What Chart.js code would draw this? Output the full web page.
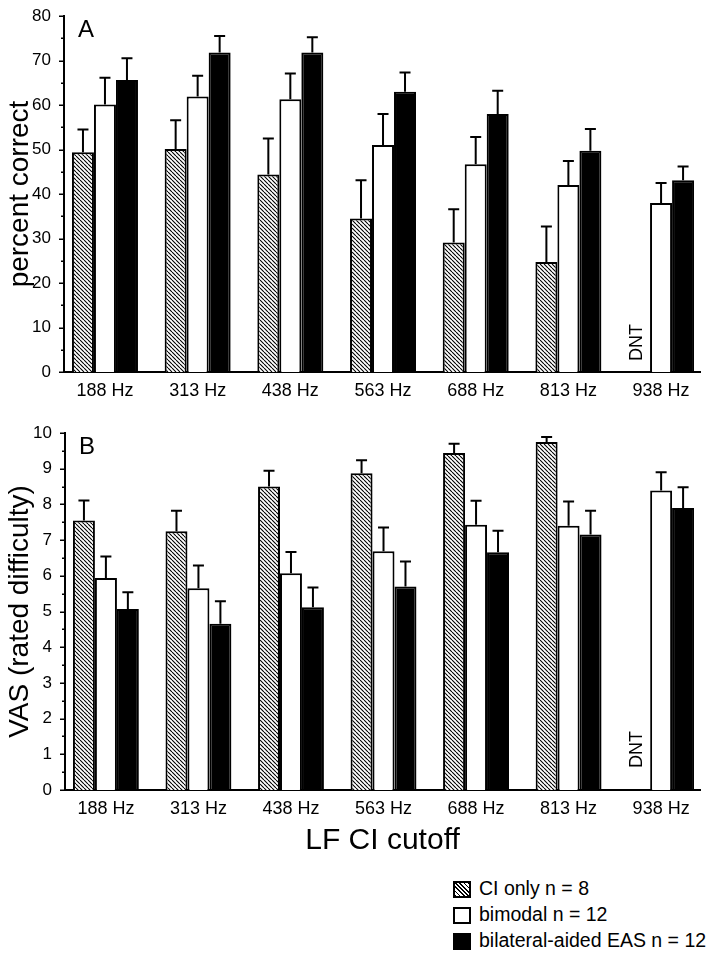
<!DOCTYPE html>
<html><head><meta charset="utf-8">
<script src="https://cdn.jsdelivr.net/npm/chart.js@4/dist/chart.umd.min.js"></script>
<style>
body{margin:0;background:#fff;width:721px;height:961px;position:relative;overflow:hidden;font-family:'Liberation Sans',Arial,sans-serif;}
#ca{position:absolute;left:0;top:0;}
#cb{position:absolute;left:0;top:400px;}
.leg{position:absolute;left:453px;top:876px;font-size:19.5px;color:#000;line-height:1;}
.row{display:flex;align-items:center;height:26px;}
.sw{width:14px;height:13px;border:2px solid #000;margin-right:8px;flex:none;}
.sw.h{background:repeating-linear-gradient(45deg,#000 0 1.1px,#fff 1.1px 3px);}
.sw.w{background:#fff;}
.sw.k{background:#000;}
</style></head><body>
<canvas id="ca" width="721" height="402"></canvas>
<canvas id="cb" width="721" height="470"></canvas>
<div class="leg" id="leg"></div>
<script>
// ---- data ----
const categories = ['188 Hz','313 Hz','438 Hz','563 Hz','688 Hz','813 Hz','938 Hz'];
const catPos = [1,2,3,4,5,6,7];
const seriesNames = ['CI only n = 8','bimodal n = 12','bilateral-aided EAS n = 12'];
const notTestedLabel = 'DNT';

// Panel A: percent correct
const pctCIonly     = [49.4, 50.1, 44.4, 34.5, 29.1, 24.7, null];
const pctCIonlyErr  = [5.1, 6.5, 8.1, 8.6, 7.5, 8.0, null];
const pctBimodal    = [60.1, 61.9, 61.3, 51.0, 46.7, 42.0, 38.0];
const pctBimodalErr = [6.0, 4.7, 5.8, 7.0, 6.1, 5.4, 4.5];
const pctEAS        = [65.6, 71.8, 71.8, 63.0, 58.0, 49.7, 43.1];
const pctEASErr     = [4.9, 3.7, 3.4, 4.3, 5.2, 4.9, 3.1];

// Panel B: VAS rated difficulty
const vasCIonly     = [7.55, 7.25, 8.50, 8.87, 9.44, 9.75, null];
const vasCIonlyErr  = [0.56, 0.57, 0.44, 0.37, 0.26, 0.14, null];
const vasBimodal    = [5.94, 5.65, 6.07, 6.69, 7.43, 7.40, 8.39];
const vasBimodalErr = [0.60, 0.64, 0.60, 0.66, 0.67, 0.68, 0.51];
const vasEAS        = [5.07, 4.66, 5.12, 5.70, 6.66, 7.16, 7.90];
const vasEASErr     = [0.47, 0.63, 0.55, 0.70, 0.60, 0.66, 0.58];

const titleA = 'percent correct';
const titleB = 'VAS (rated difficulty)';
const titleX = 'LF CI cutoff';

// ---- styling ----
const FAM = '"Liberation Sans", Arial, sans-serif';
function makeHatch(){
  const s = 4, c = document.createElement('canvas');
  c.width = s; c.height = s;
  const g = c.getContext('2d');
  g.fillStyle = '#fff'; g.fillRect(0,0,s,s);
  g.strokeStyle = '#000'; g.lineWidth = 1.1;
  g.beginPath();
  for (let k=-1;k<=1;k++){ g.moveTo(k*s,0); g.lineTo(k*s+s,s); }
  g.stroke();
  return document.getElementById('ca').getContext('2d').createPattern(c,'repeat');
}
const hatch = makeHatch();

const errorBarPlugin = {
  id:'errbars',
  afterDatasetsDraw(chart){
    const ctx = chart.ctx, ys = chart.scales.y;
    chart.data.datasets.forEach((ds,di)=>{
      const meta = chart.getDatasetMeta(di);
      meta.data.forEach((el,j)=>{
        const v = ds.data[j].y, e = ds.errors[j];
        if (v==null || e==null) return;
        const x = el.x, y0 = ys.getPixelForValue(v), y1 = ys.getPixelForValue(v+e);
        ctx.save();
        ctx.strokeStyle='#000'; ctx.lineWidth=2;
        ctx.beginPath();
        ctx.moveTo(x,y0); ctx.lineTo(x,y1);
        ctx.moveTo(x-5.5,y1); ctx.lineTo(x+5.5,y1);
        ctx.stroke();
        ctx.restore();
      });
    });
  }
};
// y-axis tick marks: long for labelled (major) ticks, short for minor ticks
const tickMarkPlugin = {
  id:'tickmarks',
  afterDraw(chart, args, opts){
    const ctx = chart.ctx, ys = chart.scales.y, x0 = chart.chartArea.left;
    ctx.save();
    ctx.strokeStyle='#000'; ctx.lineWidth=1.5;
    ys.ticks.forEach(t=>{
      const major = Math.abs(t.value/opts.major - Math.round(t.value/opts.major))<1e-6;
      const y = Math.round(ys.getPixelForValue(t.value))+0.25;
      ctx.beginPath();
      ctx.moveTo(x0, y); ctx.lineTo(x0-(major?5:3), y);
      ctx.stroke();
    });
    ctx.restore();
  }
};
const annotPlugin = {
  id:'annot',
  afterDraw(chart, args, opts){
    const ctx = chart.ctx, a = chart.chartArea, ys = chart.scales.y;
    ctx.save();
    ctx.fillStyle='#000';
    ctx.font = '24px ' + FAM;
    ctx.textAlign='left'; ctx.textBaseline='alphabetic';
    ctx.fillText(opts.letter, a.left+14, a.top+21);
    const ds0 = chart.data.datasets[0];
    const m1 = chart.getDatasetMeta(1);
    ds0.data.forEach((d,j)=>{
      if (d.y!=null) return;
      const el = m1.data[j];
      const x = el.x - el.width - 2;
      const y = ys.getPixelForValue(0) - opts.dntGap;
      ctx.save();
      ctx.translate(x,y); ctx.rotate(-Math.PI/2);
      ctx.font = '18px ' + FAM;
      ctx.textAlign='left'; ctx.textBaseline='middle';
      ctx.fillText(notTestedLabel,0,0);
      ctx.restore();
    });
    ctx.restore();
  }
};

function makeChart(id, vals, errs, o){
  const cols = [hatch,'#fff','#000'];
  return new Chart(document.getElementById(id),{
    type:'bar',
    data:{datasets: vals.map((arr,k)=>({
      label: seriesNames[k],
      data: catPos.map((x,i)=>({x:x, y:arr[i]})),
      errors: errs[k],
      backgroundColor: cols[k], borderColor:'#000', borderWidth:2
    }))},
    options:{
      responsive:false, animation:false, devicePixelRatio:1,
      layout:{padding:{left:0, top:o.top, right:21, bottom:0}},
      datasets:{bar:{categoryPercentage:0.712, barPercentage:1}},
      plugins:{legend:{display:false}, tooltip:{enabled:false},
        annot:{letter:o.letter, dntGap:o.dntGap}, tickmarks:{major:o.major}},
      scales:{
        x:{type:'linear', min:0.558, max:7.42, offset:false,
          afterBuildTicks:(s)=>{ s.ticks = catPos.map(v=>({value:v})); },
          afterFit:(s)=>{ s.height = o.xh; },
          grid:{display:false},
          border:{display:true, color:'#000', width:2},
          ticks:{autoSkip:false, maxRotation:0, color:'#000', padding:0,
            font:{size:18, family:FAM}, callback:(v,i)=>categories[i]},
          title: o.xTitle ? {display:true, text:o.xTitle, color:'#000',
            font:{size:30, family:FAM}, padding:{top:0,bottom:11}} : {display:false}
        },
        y:{min:0, max:o.ymax,
          afterFit:(s)=>{ s.width = o.yw; },
          ticks:{stepSize:o.step, autoSkip:false, color:'#000', padding:5,
            font:{size:17, family:FAM},
            callback:(v)=> (Math.abs(v/o.major - Math.round(v/o.major))<1e-6) ? v : ''},
          grid:{display:false},
          border:{display:true, color:'#000', width:2},
          title:{display:true, text:o.yTitle, color:'#000',
            font:{size:28, family:FAM}, padding:{top:3,bottom:0}}
        }
      }
    },
    plugins:[errorBarPlugin, tickMarkPlugin, annotPlugin]
  });
}

makeChart('ca',[pctCIonly,pctBimodal,pctEAS],[pctCIonlyErr,pctBimodalErr,pctEASErr],
  {top:16, xh:30, yw:64, ymax:80, step:5, major:10, yTitle:titleA, letter:'A', dntGap:11});
makeChart('cb',[vasCIonly,vasBimodal,vasEAS],[vasCIonlyErr,vasBimodalErr,vasEASErr],
  {top:33, xh:80, yw:65, ymax:10, step:0.5, major:1, yTitle:titleB, xTitle:titleX, letter:'B', dntGap:22});

// legend
const swCls = ['h','w','k'];
const leg = document.getElementById('leg');
seriesNames.forEach((n,k)=>{
  const r = document.createElement('div'); r.className='row';
  const s = document.createElement('div'); s.className='sw '+swCls[k];
  const t = document.createElement('span'); t.textContent = n;
  r.appendChild(s); r.appendChild(t); leg.appendChild(r);
});
</script>
</body></html>
